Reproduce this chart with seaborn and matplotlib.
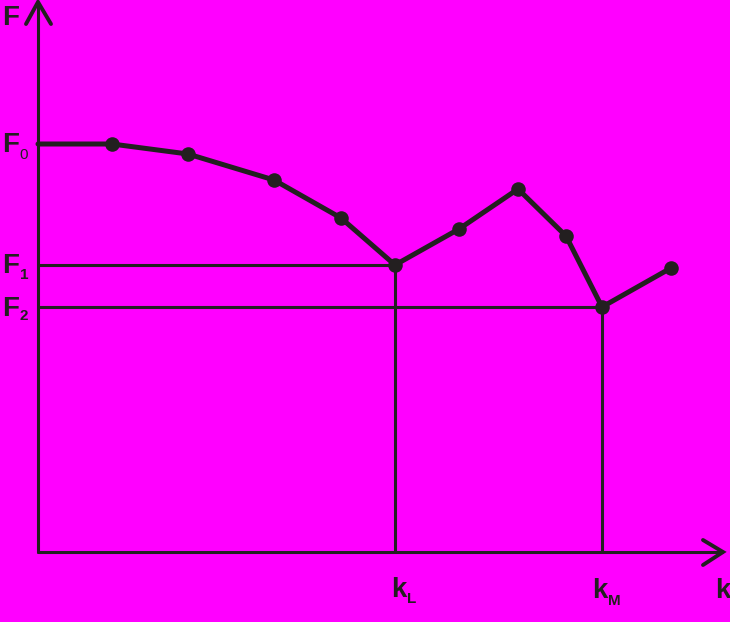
import matplotlib
matplotlib.use("Agg")
import matplotlib.pyplot as plt
import seaborn as sns
import pandas as pd

# ---------------------------
# Data (k along the horizontal axis, F up the vertical one)
# ---------------------------
k_vals = [0, 74, 150, 236, 303, 357, 421, 480, 528, 564, 633]
f_vals = [408, 408, 398, 372, 334, 287, 323, 363, 316, 245, 284]
marked = [False, True, True, True, True, True, True, True, True, True, True]

F1 = 287
F2 = 245
kL = 357
kM = 564

df = pd.DataFrame({"k": k_vals, "F": f_vals, "marked": marked})

BG = "#ff00ff"
INK = "#231f20"

sns.set_style("white", {"axes.facecolor": BG, "figure.facecolor": BG})
plt.rcParams["font.family"] = ["Liberation Sans", "DejaVu Sans"]

fig = plt.figure(figsize=(7.30, 6.22), dpi=100)
ax = fig.add_axes([0, 0, 1, 1])
ax.set_xlim(-38, 692)
ax.set_ylim(-70, 552)
ax.axis("off")

# axes with open arrow heads
ax.plot([0, 0], [0, 549], color=INK, lw=2.2)
ax.plot([-12, 0, 13], [528, 550, 528], color=INK, lw=2.8, solid_joinstyle="miter")
ax.plot([0, 684], [0, 0], color=INK, lw=2.2)
ax.plot([665, 685, 665], [12, 0, -13], color=INK, lw=2.8, solid_joinstyle="miter")

# guide lines for F1/kL and F2/kM
ax.plot([0, kL, kL], [F1, F1, 0], color=INK, lw=2.2)
ax.plot([0, kM, kM], [F2, F2, 0], color=INK, lw=2.2)

# curve and points
sns.lineplot(data=df, x="k", y="F", color=INK, lw=3.6, ax=ax, sort=False)
sns.scatterplot(data=df[df["marked"]], x="k", y="F", color=INK, s=110,
                edgecolor=INK, linewidth=0, ax=ax, zorder=5)
ax.set_xlabel("")
ax.set_ylabel("")

# labels
big = dict(fontsize=20, fontweight="bold", color=INK)
small = dict(fontsize=11, fontweight="bold", color=INK)

ax.text(-36, 527, "F", va="baseline", ha="left", **big)
ax.text(-36, 400, "F", va="baseline", ha="left", **big)
ax.text(-19, 393, "0", va="baseline", ha="left", fontsize=11, color=INK)
ax.text(-36, 279, "F", va="baseline", ha="left", **big)
ax.text(-18, 273, "1", va="baseline", ha="left", **small)
ax.text(-36, 236, "F", va="baseline", ha="left", **big)
ax.text(-19, 232, "2", va="baseline", ha="left", **small)

ax.text(353, -45, "k", va="baseline", ha="left", **big)
ax.text(369, -51, "L", va="baseline", ha="left", **small)
ax.text(554, -46, "k", va="baseline", ha="left", **big)
ax.text(570, -53, "M", va="baseline", ha="left", **small)
ax.text(677, -46, "k", va="baseline", ha="left", **big)

fig.savefig("out.png", dpi=100, facecolor=BG)
